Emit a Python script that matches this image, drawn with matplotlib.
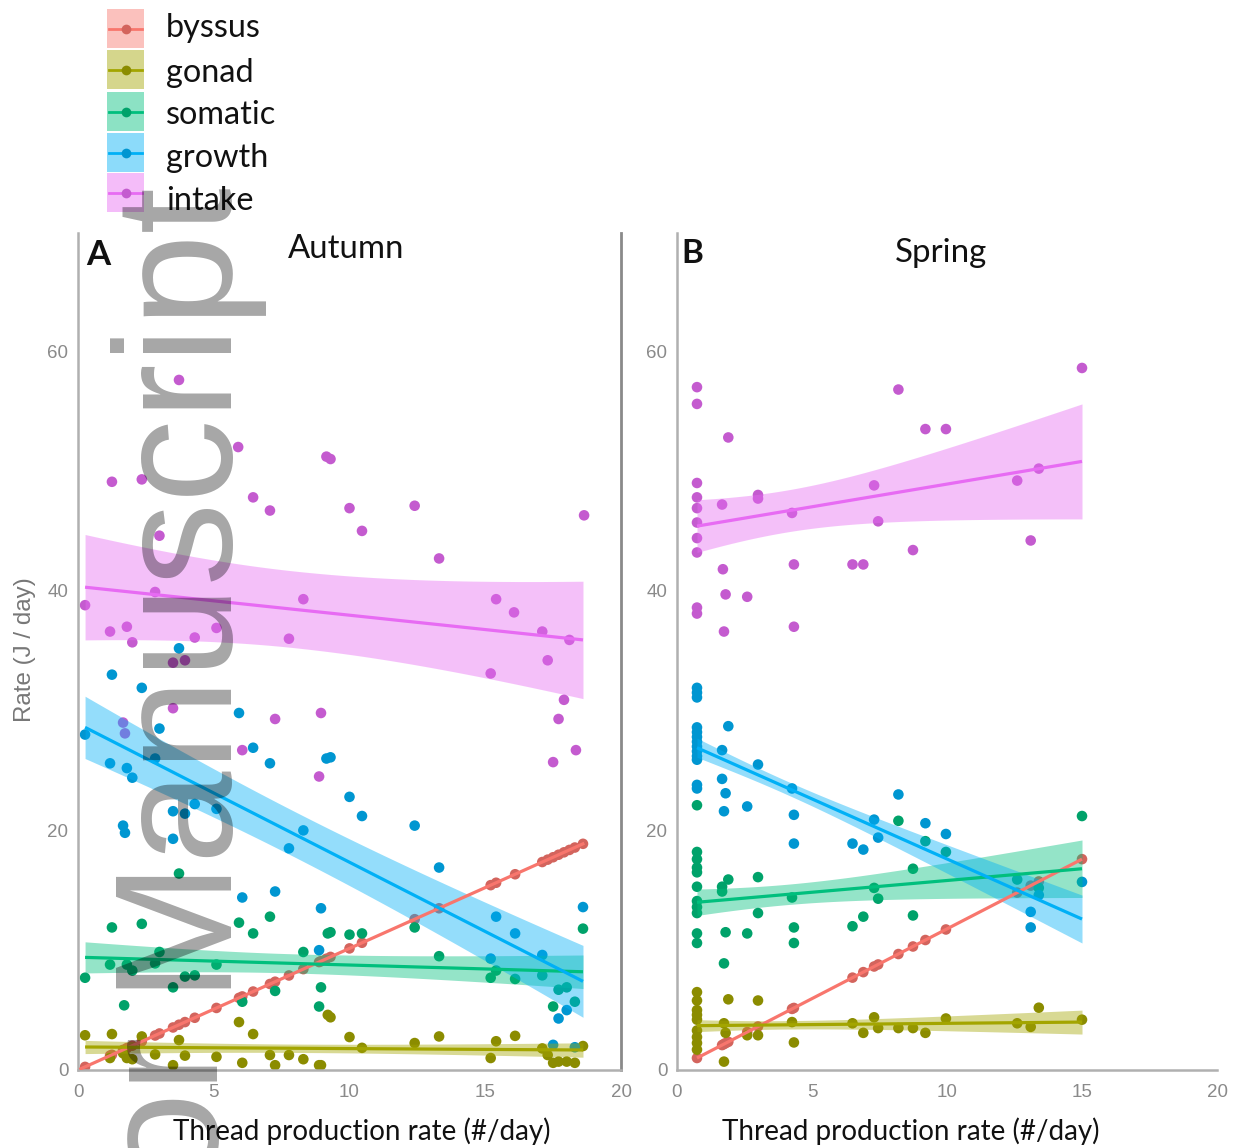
import numpy as np
import matplotlib
matplotlib.use('Agg')
import matplotlib.pyplot as plt
from matplotlib.patches import Rectangle
from matplotlib.lines import Line2D

W, H = 1237, 1148

series = ['byssus', 'gonad', 'somatic', 'growth', 'intake']
colors = {'byssus': '#F8766D', 'gonad': '#A3A500', 'somatic': '#00BF7D',
          'growth': '#00B0F6', 'intake': '#E76BF3'}
panel_titles = ['Autumn', 'Spring']
panel_letters = ['A', 'B']
x_ticks = [0, 5, 10, 15, 20]
y_ticks = [0, 20, 40, 60]
x_label = 'Thread production rate (#/day)'
y_label = 'Rate (J / day)'

# ---------------- Panel A (Autumn) ----------------
byssus_A_x = [0.26, 1.18, 1.25, 1.66, 1.8, 2.0, 2.35, 2.84, 3.0, 3.5, 3.72, 3.94, 4.3, 5.1,
              5.93, 6.05, 6.45, 7.07, 7.26, 7.77, 8.3, 8.88, 8.95, 9.15, 9.3, 10.0, 10.46,
              12.4, 13.3, 15.2, 15.4, 16.1, 17.1, 17.3, 17.5, 17.7, 17.9, 18.1, 18.3, 18.6]
byssus_A_y = [0.26, 1.20, 1.27, 1.68, 1.83, 2.03, 2.39, 2.88, 3.05, 3.55, 3.78, 4.00, 4.36, 5.18,
              6.02, 6.14, 6.55, 7.18, 7.37, 7.89, 8.42, 9.01, 9.08, 9.29, 9.44, 10.15, 10.62,
              12.59, 13.50, 15.43, 15.63, 16.34, 17.36, 17.56, 17.76, 17.97, 18.17, 18.37, 18.57, 18.88]
gonad_A_x = [0.26, 1.25, 2.35, 3.72, 5.93, 6.45, 1.18, 1.8, 2.0, 2.84, 3.5, 3.94, 5.1, 6.05,
             7.07, 7.26, 7.77, 8.3, 8.95, 9.3, 9.2, 10.0, 10.46, 12.4, 13.3, 15.4, 16.1, 15.2,
             17.1, 17.3, 17.5, 17.7, 18.0, 18.3, 18.6, 8.88, 1.66]
gonad_A_y = [2.9, 3.0, 2.8, 2.5, 4.0, 3.0, 1.0, 1.0, 0.9, 1.3, 0.4, 1.2, 1.1, 0.6,
             1.25, 0.4, 1.25, 0.9, 0.4, 4.4, 4.6, 2.75, 1.85, 2.25, 2.8, 2.4, 2.85, 1.0,
             1.8, 1.25, 0.6, 0.7, 0.7, 0.6, 2.0, 0.4, 1.4]
somatic_A_x = [3.72, 1.25, 2.35, 5.93, 7.07, 6.45, 9.2, 8.3, 3.0, 0.26, 1.18, 1.8, 2.0, 2.84,
               3.94, 4.3, 5.1, 3.5, 1.7, 6.05, 7.26, 8.95, 8.88, 9.3, 10.0, 10.46, 12.4, 13.3,
               15.2, 16.1, 15.4, 18.6, 17.1, 17.7, 18.0, 17.5, 18.3]
somatic_A_y = [16.4, 11.9, 12.2, 12.3, 12.8, 11.4, 11.4, 9.85, 9.85, 7.7, 8.8, 8.8, 8.3, 8.9,
               7.8, 7.9, 8.8, 6.9, 5.4, 5.7, 6.6, 6.9, 5.3, 11.5, 11.3, 11.4, 11.9, 9.5,
               7.7, 7.6, 8.3, 11.8, 7.9, 6.7, 6.9, 5.3, 5.7]
growth_A_x = [1.25, 2.35, 3.0, 0.26, 5.93, 6.45, 7.07, 9.15, 9.3, 1.18, 1.8, 2.0, 2.84, 4.3,
              3.94, 3.5, 5.1, 1.66, 1.73, 3.5, 8.3, 7.77, 6.05, 7.26, 8.95, 8.88, 10.0, 10.46,
              12.4, 13.3, 15.4, 16.1, 15.2, 17.1, 18.6, 17.7, 18.0, 17.5, 18.3, 3.72]
growth_A_y = [33.0, 31.9, 28.5, 28.0, 29.8, 26.9, 25.6, 26.0, 26.1, 25.6, 25.2, 24.4, 26.0, 22.2,
              21.4, 21.6, 21.8, 20.4, 19.8, 19.3, 20.0, 18.5, 14.4, 14.9, 13.5, 10.0, 22.8, 21.2,
              20.4, 16.9, 12.8, 11.4, 9.3, 9.6, 13.6, 4.3, 5.0, 2.1, 1.9, 35.2]
intake_A_x = [3.72, 5.9, 1.25, 2.35, 6.45, 7.07, 9.15, 9.3, 3.0, 0.26, 1.18, 1.8, 2.0, 2.84,
              4.3, 5.1, 8.3, 7.77, 3.5, 3.94, 3.5, 7.26, 8.95, 1.66, 1.73, 6.05, 8.88, 10.0,
              10.46, 12.4, 13.3, 18.64, 15.4, 16.06, 17.1, 18.1, 15.2, 17.3, 17.9, 17.7, 17.5, 18.34]
intake_A_y = [57.6, 52.0, 49.1, 49.3, 47.8, 46.7, 51.2, 51.0, 44.6, 38.8, 36.6, 37.0, 35.7, 39.9,
              36.1, 36.9, 39.3, 36.0, 34.0, 34.2, 30.2, 29.3, 29.8, 29.0, 28.1, 26.7, 24.5, 46.9,
              45.0, 47.1, 42.7, 46.3, 39.3, 38.2, 36.6, 35.9, 33.1, 34.2, 30.9, 29.3, 25.7, 26.7]

# ---------------- Panel B (Spring) ----------------
byssus_B_x = [0.74, 1.67, 1.74, 1.8, 1.9, 2.6, 3.0, 4.26, 4.33, 6.5, 6.9, 7.3, 7.45, 8.2,
              8.74, 9.2, 9.96, 12.6, 13.1, 13.4, 15.0]
byssus_B_y = [1.00, 2.08, 2.17, 2.24, 2.35, 3.17, 3.63, 5.10, 5.18, 7.71, 8.17, 8.64, 8.81, 9.68,
              10.31, 10.85, 11.73, 14.81, 15.39, 15.74, 17.60]
gonad_B_x = [0.74, 0.74, 0.74, 0.74, 0.74, 0.74, 0.74, 0.74, 0.74, 1.9, 3.0, 1.74, 1.74, 1.8,
             2.6, 3.0, 4.26, 4.33, 6.5, 6.9, 7.3, 7.45, 8.2, 8.74, 9.2, 9.96, 12.6, 13.1, 13.4, 15.0]
gonad_B_y = [6.5, 5.8, 5.0, 4.6, 4.2, 3.3, 2.75, 2.25, 1.7, 5.9, 5.8, 0.7, 3.9, 3.1,
             2.9, 2.9, 4.0, 2.3, 3.9, 3.1, 4.4, 3.5, 3.5, 3.5, 3.1, 4.3, 3.9, 3.6, 5.2, 4.2]
somatic_B_x = [0.74, 0.74, 0.74, 0.74, 0.74, 0.74, 0.74, 0.74, 0.74, 0.74, 0.74, 1.67, 1.67,
               1.9, 1.8, 1.74, 2.6, 3.0, 3.0, 4.26, 4.33, 4.33, 6.5, 6.9, 7.3, 7.45, 8.2, 8.74,
               8.74, 9.2, 9.96, 15.0, 12.6, 13.4]
somatic_B_y = [22.1, 18.2, 17.6, 16.9, 16.5, 15.3, 14.1, 13.6, 13.1, 11.4, 10.6, 15.3, 14.9,
               15.9, 11.5, 8.9, 11.4, 16.1, 13.1, 14.4, 11.9, 10.6, 12.0, 12.8, 15.2, 14.3, 20.8, 16.8,
               12.9, 19.1, 18.2, 21.2, 15.9, 15.2]
growth_B_x = [0.74, 0.74, 0.74, 0.74, 0.74, 0.74, 0.74, 0.74, 0.74, 0.74, 0.74, 0.74, 0.74,
              1.9, 1.67, 1.67, 1.8, 1.74, 2.6, 3.0, 4.26, 4.33, 4.33, 6.5, 6.9, 7.3, 7.45, 8.2,
              9.2, 9.96, 13.1, 13.1, 15.0, 13.4]
growth_B_y = [31.9, 31.5, 31.1, 28.6, 28.2, 27.8, 27.4, 27.0, 26.6, 26.2, 25.9, 23.8, 23.5,
              28.7, 26.7, 24.3, 23.1, 21.6, 22.0, 25.5, 23.5, 21.3, 18.9, 18.9, 18.4, 20.9, 19.4, 23.0,
              20.6, 19.7, 13.2, 11.9, 15.7, 14.6]
intake_B_x = [0.74, 0.74, 1.9, 0.74, 0.74, 0.74, 0.74, 0.74, 0.74, 1.67, 3.0, 3.0, 4.26, 7.3,
              7.45, 8.2, 9.2, 8.74, 4.33, 6.5, 6.9, 1.7, 1.8, 2.6, 0.74, 0.74, 1.74, 4.33, 15.0,
              9.96, 13.4, 12.6, 13.1]
intake_B_y = [57.0, 55.6, 52.8, 49.0, 47.8, 46.9, 45.7, 44.4, 43.2, 47.2, 48.0, 47.7, 46.5, 48.8,
              45.8, 56.8, 53.5, 43.4, 42.2, 42.2, 42.2, 41.8, 39.7, 39.5, 38.6, 38.1, 36.6, 37.0, 58.6,
              53.5, 50.2, 49.2, 44.2]

# Fitted lm lines with 95% CI:
# (x_start, x_end, y_start, y_end, halfwidth_start, halfwidth_min, x_at_min, halfwidth_end)
fits_A = {
    'byssus':  (0.05, 18.65, 0.05, 18.93, 0.0, 0.0, 9.0, 0.0),
    'gonad':   (0.26, 18.6, 1.92, 1.67, 0.55, 0.35, 8.0, 0.6),
    'somatic': (0.26, 18.6, 9.4, 8.2, 1.3, 0.8, 8.0, 1.4),
    'growth':  (0.26, 18.6, 28.6, 7.4, 2.6, 1.9, 8.0, 3.0),
    'intake':  (0.26, 18.6, 40.3, 35.9, 4.4, 3.2, 8.0, 4.9),
}
fits_B = {
    'byssus':  (0.74, 15.0, 1.0, 17.6, 0.0, 0.0, 4.0, 0.0),
    'gonad':   (0.74, 15.0, 3.7, 4.0, 0.5, 0.35, 4.0, 1.0),
    'somatic': (0.74, 15.0, 14.0, 16.8, 1.1, 0.85, 4.0, 2.4),
    'growth':  (0.74, 15.0, 26.9, 12.6, 0.8, 0.56, 4.0, 2.0),
    'intake':  (0.74, 15.0, 45.4, 50.8, 2.2, 1.75, 4.0, 4.8),
}

data_A = {'byssus': (byssus_A_x, byssus_A_y), 'gonad': (gonad_A_x, gonad_A_y),
          'somatic': (somatic_A_x, somatic_A_y), 'growth': (growth_A_x, growth_A_y),
          'intake': (intake_A_x, intake_A_y)}
data_B = {'byssus': (byssus_B_x, byssus_B_y), 'gonad': (gonad_B_x, gonad_B_y),
          'somatic': (somatic_B_x, somatic_B_y), 'growth': (growth_B_x, growth_B_y),
          'intake': (intake_B_x, intake_B_y)}

TITLE_FONT = 'Lato'
TICK_FONT = 'Liberation Sans'
TICK_COLOR = '#8a8a8a'


def darker(c, f=0.85):
    r, g, b = matplotlib.colors.to_rgb(c)
    return (r * f, g * f, b * f)


def px_rect(l, t, r, b):
    return [l / W, 1 - b / H, (r - l) / W, (b - t) / H]


def band(fit):
    xlo, xhi, ylo, yhi, hwlo, hwmin, xm, hwhi = fit
    xs = np.linspace(xlo, xhi, 200)
    ys = ylo + (yhi - ylo) * (xs - xlo) / (xhi - xlo)
    cl = (hwlo ** 2 - hwmin ** 2) / max((xm - xlo) ** 2, 1e-9)
    cr = (hwhi ** 2 - hwmin ** 2) / max((xhi - xm) ** 2, 1e-9)
    c = np.where(xs < xm, cl, cr)
    hw = np.sqrt(np.maximum(hwmin ** 2 + c * (xs - xm) ** 2, 0))
    return xs, ys, hw


fig = plt.figure(figsize=(W / 100, H / 100), dpi=100)
fig.patch.set_facecolor('white')

ymax = (1070 - 233) / 11.98
axA = fig.add_axes(px_rect(78, 233, 621, 1070))
axB = fig.add_axes(px_rect(677, 233, 1217, 1070))

for ax, data, fits in [(axA, data_A, fits_A), (axB, data_B, fits_B)]:
    for s in series:
        x, y = data[s]
        ax.scatter(x, y, s=58, color=darker(colors[s]), edgecolors='none', zorder=2)
    for s in series:
        xs, ys, hw = band(fits[s])
        if hw.max() > 0:
            ax.fill_between(xs, ys - hw, ys + hw, color=colors[s], alpha=0.42,
                            linewidth=0, zorder=3)
        ax.plot(xs, ys, color=colors[s], lw=2.3, zorder=4, solid_capstyle='butt')
    ax.set_xlim(0, 20)
    ax.set_ylim(0, ymax)
    ax.set_xticks(x_ticks)
    ax.set_yticks(y_ticks)
    ax.tick_params(length=0, labelsize=13.5, labelcolor=TICK_COLOR)
    ax.tick_params(axis='y', pad=7)
    ax.tick_params(axis='x', pad=10)
    for lab in ax.get_xticklabels() + ax.get_yticklabels():
        lab.set_fontfamily(TICK_FONT)
    for sp in ['top', 'right']:
        ax.spines[sp].set_visible(False)
    for sp in ['left', 'bottom']:
        ax.spines[sp].set_color('#b0b0b0')
        ax.spines[sp].set_linewidth(1.8)
    ax.set_facecolor('none')

axA.spines['right'].set_visible(True)
axA.spines['right'].set_color('#8a8a8a')
axA.spines['right'].set_linewidth(2.0)

renderer = fig.canvas.get_renderer()


def ftext(x, y, s, target_w=None, size=20, rot=0, **kw):
    t = fig.text(x / W, 1 - y / H, s, fontsize=size, rotation=rot, **kw)
    if target_w is not None:
        bb = t.get_window_extent(renderer)
        w = bb.height if rot in (90, 270) else bb.width
        t.set_fontsize(size * target_w / w)
    return t


# panel titles and letters
ftext(346, 258, panel_titles[0], target_w=116, size=22, ha='center', va='baseline',
      family=TITLE_FONT, color='#111111')
ftext(941, 262, panel_titles[1], target_w=92, size=22, ha='center', va='baseline',
      family=TITLE_FONT, color='#111111')
ftext(98, 265, panel_letters[0], target_w=24, size=22, ha='center', va='baseline',
      family=TITLE_FONT, weight='bold', color='#111111')
ftext(692, 263, panel_letters[1], target_w=22, size=22, ha='center', va='baseline',
      family=TITLE_FONT, weight='bold', color='#111111')

# axis labels
ftext(362, 1140, x_label, target_w=378, size=20, ha='center', va='baseline',
      family=TITLE_FONT, color='#111111')
ftext(911, 1140, x_label, target_w=377, size=20, ha='center', va='baseline',
      family=TITLE_FONT, color='#111111')
ftext(25, 650, y_label, target_w=145, size=13, rot=90, ha='center', va='center',
      family=TICK_FONT, color='#777777')

# legend (manual, in pixel coordinates)
lax = fig.add_axes([0, 0, 1, 1])
lax.set_xlim(0, W)
lax.set_ylim(H, 0)
lax.axis('off')
lax.patch.set_alpha(0)
key_tops = [9, 50, 92, 133, 173]
key_h = 39
baselines = [37, 82, 124, 167, 210]
for s, kt, bl in zip(series, key_tops, baselines):
    lax.add_patch(Rectangle((107, kt), 37, key_h, facecolor=colors[s], alpha=0.45,
                            edgecolor='none'))
    cy = kt + key_h / 2
    lax.add_line(Line2D([109, 142], [cy, cy], color=colors[s], lw=2.0))
    lax.plot([125.5], [cy], 'o', color=darker(colors[s]), ms=7, mec='none')
    t = lax.text(166, bl, s, fontsize=23, family=TITLE_FONT, va='baseline', ha='left',
                 color='#111111')
# scale legend text to reference width of "byssus"
tb = lax.texts[0].get_window_extent(renderer)
scale = 95 / tb.width
for t in lax.texts:
    t.set_fontsize(t.get_fontsize() * scale)

# watermark
wm_size = 120
wm_x = 218
fig.text(wm_x / W, 1 - 988 / H, 'Manuscript', fontsize=wm_size, family='Liberation Sans',
         rotation=90, rotation_mode='anchor', ha='left', va='baseline', color='black',
         alpha=0.35, zorder=10)
fig.text(wm_x / W, 1 - 1035 / H, 'Author', fontsize=wm_size, family='Liberation Sans',
         rotation=90, rotation_mode='anchor', ha='right', va='baseline', color='black',
         alpha=0.35, zorder=10)

fig.savefig('out.png', dpi=100, facecolor='white')
